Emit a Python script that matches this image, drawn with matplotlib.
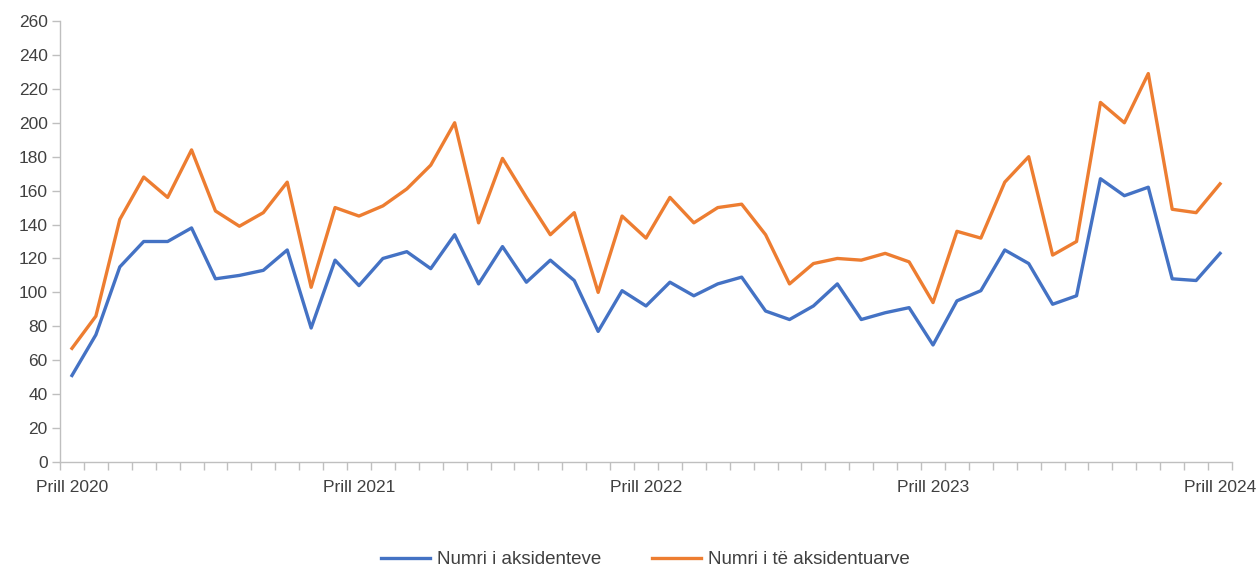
import numpy as np
import matplotlib.pyplot as plt
from matplotlib.ticker import FixedLocator

plt.rcParams['font.family'] = ['Liberation Sans', 'DejaVu Sans']

# monthly values, Prill 2020 .. Prill 2024
aksidente = [51, 75, 115, 130, 130, 138, 108, 110, 113, 125, 79, 119,
             104, 120, 124, 114, 134, 105, 127, 106, 119, 107, 77, 101,
             92, 106, 98, 105, 109, 89, 84, 92, 105, 84, 88, 91,
             69, 95, 101, 125, 117, 93, 98, 167, 157, 162, 108, 107,
             123]
aksidentuar = [67, 86, 143, 168, 156, 184, 148, 139, 147, 165, 103, 150,
               145, 151, 161, 175, 200, 141, 179, 156, 134, 147, 100, 145,
               132, 156, 141, 150, 152, 134, 105, 117, 120, 119, 123, 118,
               94, 136, 132, 165, 180, 122, 130, 212, 200, 229, 149, 147,
               164]
tick_pos = [0, 12, 24, 36, 48]
tick_labels = ["Prill 2020", "Prill 2021", "Prill 2022", "Prill 2023", "Prill 2024"]

x = np.arange(len(aksidente))

fig = plt.figure(figsize=(12.56, 5.71), dpi=100)
ax = fig.add_axes([60/1256, 109/571, (1232-60)/1256, (462-21)/571])

ax.plot(x, aksidente, color='#4472C4', lw=2.4, label='Numri i aksidenteve')
ax.plot(x, aksidentuar, color='#ED7D31', lw=2.4, label='Numri i të aksidentuarve')

ax.set_xlim(-0.5, len(x) - 0.5)
ax.set_ylim(0, 260)
ax.set_yticks(np.arange(0, 261, 20))

ax.set_xticks(tick_pos)
ax.set_xticklabels(tick_labels)
ax.xaxis.set_minor_locator(FixedLocator(np.arange(-0.5, len(x), 1)))
ax.tick_params(axis='x', which='major', length=0, pad=13, labelsize=12.5, colors='#404040')
ax.tick_params(axis='x', which='minor', length=6, color='#bfbfbf', width=1)
ax.tick_params(axis='y', length=6, color='#bfbfbf', width=1, labelsize=12.5,
               labelcolor='#404040', pad=3)

for s in ['top', 'right']:
    ax.spines[s].set_visible(False)
for s in ['left', 'bottom']:
    ax.spines[s].set_color('#bfbfbf')
    ax.spines[s].set_linewidth(1)

fig.legend(loc='lower center', bbox_to_anchor=(0.514, -0.025), ncol=2, frameon=False,
           fontsize=13.5, handlelength=2.6, columnspacing=2.7, handletextpad=0.4,
           labelcolor='#404040')

fig.savefig('out.png', dpi=100)
